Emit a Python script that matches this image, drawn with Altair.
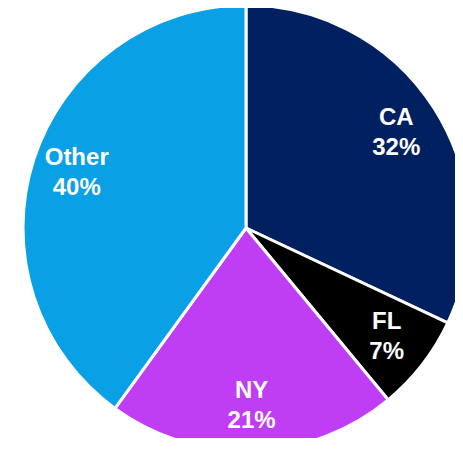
import altair as alt
import pandas as pd

states = ["CA", "FL", "NY", "Other"]
shares = [32, 7, 21, 40]
colors = ["#002060", "#000000", "#BF3DF2", "#0AA0E6"]

df = pd.DataFrame({
    "state": states,
    "share": shares,
    "idx": list(range(len(states))),
})

CX, CY = 238, 220
FONT = "Liberation Sans"

base = alt.Chart(df).transform_calculate(
    pct="datum.share + '%'"
).encode(
    theta=alt.Theta("share:Q", stack=True),
    order=alt.Order("idx:Q", sort="ascending"),
    detail="state:N",
    x=alt.value(CX),
    y=alt.value(CY),
)

arcs = base.mark_arc(radius=223, stroke="white", strokeWidth=3).encode(
    color=alt.Color("state:N", scale=alt.Scale(domain=states, range=colors), legend=None)
)

name_txt = base.mark_text(
    radius=178, dy=-15, font=FONT, fontSize=24, fontWeight="bold", color="white"
).encode(text="state:N")

pct_txt = base.mark_text(
    radius=178, dy=15, font=FONT, fontSize=24, fontWeight="bold", color="white"
).encode(text="pct:N")

chart = alt.layer(arcs, name_txt, pct_txt).properties(
    width=447, height=430, autosize="none", padding=0
).configure_view(stroke=None)

chart.save("out.html", embed_options={"renderer": "svg", "actions": False})
